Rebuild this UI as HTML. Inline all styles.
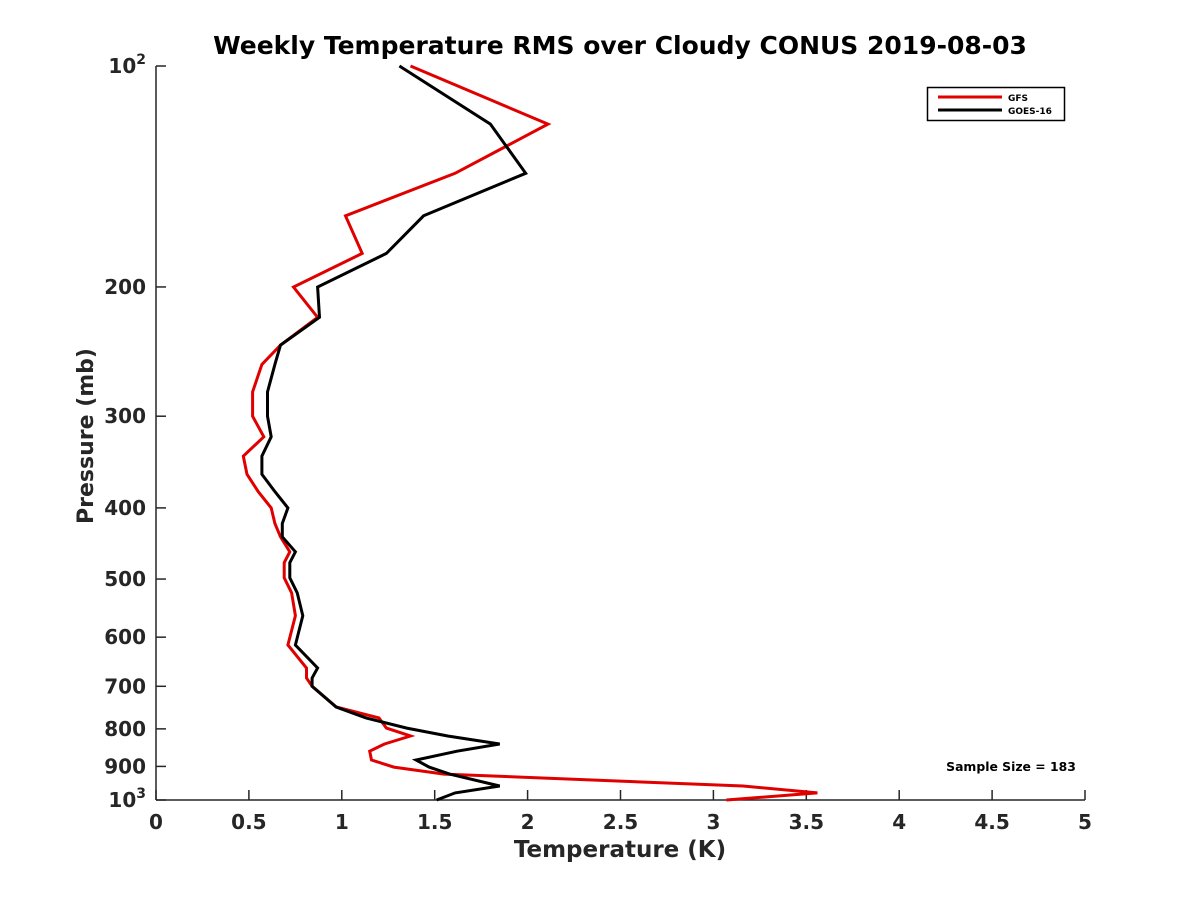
<!DOCTYPE html>
<html><head><meta charset="utf-8">
<style>
body{margin:0;background:#fff;}
svg{display:block;font-family:"DejaVu Sans","Liberation Sans",sans-serif;}
</style></head>
<body>
<svg id="chart" width="1200" height="900">
<rect width="1200" height="900" fill="#fff"/>
<text x="620" y="54" text-anchor="middle" font-size="25" font-weight="bold" fill="#000">Weekly Temperature RMS over Cloudy CONUS 2019-08-03</text>
<g id="axes"></g>
<g id="series"></g>
<text x="620" y="857" text-anchor="middle" font-size="23" font-weight="bold" fill="#262626">Temperature (K)</text>
<text transform="translate(93,436) rotate(-90)" text-anchor="middle" font-size="22" font-weight="bold" fill="#262626">Pressure (mb)</text>
<text x="1011" y="771" text-anchor="middle" font-size="12.4" font-weight="bold" fill="#000">Sample Size = 183</text>
<g>
<rect x="927.5" y="87.5" width="137" height="33" fill="#fff" stroke="#000" stroke-width="1.5"/>
<line x1="938" y1="97" x2="1002" y2="97" stroke="#e00000" stroke-width="3"/>
<text x="1008" y="101" font-size="9" font-weight="bold">GFS</text>
<line x1="938" y1="110" x2="1002" y2="110" stroke="#000" stroke-width="3"/>
<text x="1008" y="114" font-size="9" font-weight="bold">GOES-16</text>
</g>
</svg>
<script>
const pressure = [100,120,140,160,180,200,220,240,255,278,300,320,340,360,380,400,420,438,459,475,498,522,561,615,661,682,700,747,773,798,818,839,858,882,902,922,957,978,1000];
const gfs = [1.37,2.11,1.61,1.02,1.11,0.74,0.87,0.67,0.57,0.52,0.52,0.58,0.47,0.49,0.55,0.62,0.64,0.67,0.72,0.69,0.69,0.73,0.75,0.71,0.81,0.81,0.84,0.97,1.20,1.24,1.37,1.23,1.15,1.16,1.28,1.55,3.16,3.56,3.07];
const goes16 = [1.31,1.80,1.99,1.44,1.24,0.87,0.88,0.67,0.64,0.60,0.60,0.62,0.57,0.57,0.64,0.71,0.68,0.68,0.75,0.72,0.72,0.76,0.79,0.75,0.87,0.84,0.84,0.97,1.13,1.35,1.57,1.85,1.62,1.40,1.47,1.58,1.85,1.61,1.51];
const xTicks = [0,0.5,1,1.5,2,2.5,3,3.5,4,4.5,5];
const xTickLabels = ["0","0.5","1","1.5","2","2.5","3","3.5","4","4.5","5"];
const yTicks = [100,200,300,400,500,600,700,800,900,1000];
const yTickLabels = ["10^2","200","300","400","500","600","700","800","900","10^3"];

const X0=156,X1=1085,Y0=66,Y1=800;
function xs(v){return X0+(v-0)/(5-0)*(X1-X0);}
function ys(p){return Y0+(Math.log10(p)-2)*(Y1-Y0);}
const NS="http://www.w3.org/2000/svg";
const axes=document.getElementById('axes');
function mk(tag,attrs,parent){const e=document.createElementNS(NS,tag);for(const k in attrs)e.setAttribute(k,attrs[k]);parent.appendChild(e);return e;}

const xl=mk('line',{x1:X0,y1:Y1,x2:X1,y2:Y1,stroke:'#262626','stroke-width':1.5},axes);


const yl=mk('line',{x1:X0,y1:Y0,x2:X0,y2:Y1,stroke:'#262626','stroke-width':1.5},axes);



xTicks.forEach((t,i)=>{
  const x=xs(t);
  const tk=mk('line',{x1:x,y1:Y1,x2:x,y2:Y1-10,stroke:'#262626','stroke-width':1.5},axes);
  
  
  const tx=mk('text',{x:x,y:Y1+29,'text-anchor':'middle','font-size':20,'font-weight':'bold',fill:'#262626'},axes);
  tx.textContent=xTickLabels[i];
  
  
});
yTicks.forEach((t,i)=>{
  const y=ys(t);
  const tk=mk('line',{x1:X0,y1:y,x2:X0+10,y2:y,stroke:'#262626','stroke-width':1.5},axes);
  
  
  const lab=yTickLabels[i];
  const tx=mk('text',{x:X0-10,y:y+7,'text-anchor':'end','font-size':20,'font-weight':'bold',fill:'#262626'},axes);
  if(lab.indexOf('^')>=0){
    const parts=lab.split('^');
    const a=mk('tspan',{},tx); a.textContent=parts[0];
    const b=mk('tspan',{dy:-9,'font-size':14},tx); b.textContent=parts[1];
  } else tx.textContent=lab;
  
  
});

const series=document.getElementById('series');
function drawLine(vals,color,name){
  const pts=vals.map((v,i)=>xs(v).toFixed(1)+','+ys(pressure[i]).toFixed(1)).join(' ');
  const pl=mk('polyline',{points:pts,fill:'none',stroke:color,'stroke-width':3,'stroke-linejoin':'miter'},series);
  
  
}
drawLine(gfs,'#e00000','gfs-line');
drawLine(goes16,'#000000','goes16-line');
</script>
</body></html>
